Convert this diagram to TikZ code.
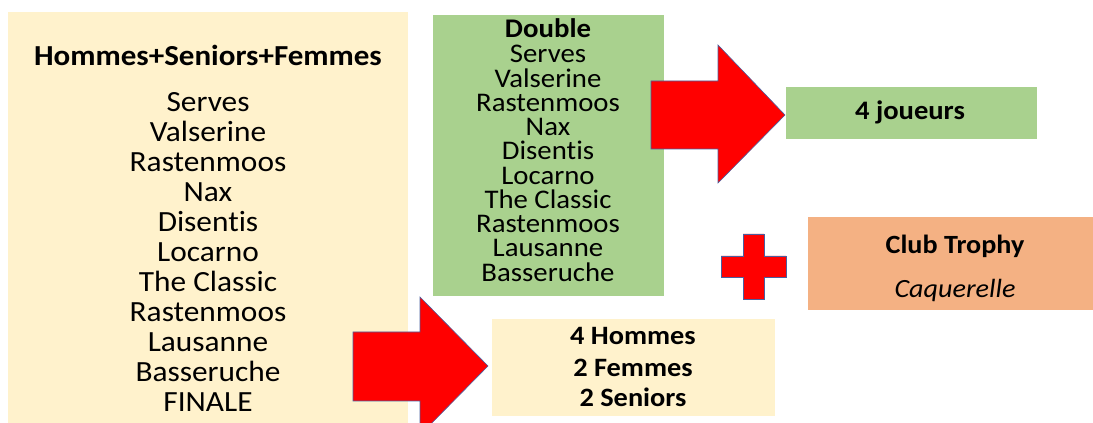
\documentclass[tikz,border=0pt]{standalone}
\usepackage{fontspec}
\setmainfont[FakeStretch=1.07,Ligatures={NoCommon}]{Carlito}
\definecolor{boxyellow}{HTML}{FFF2CC}
\definecolor{boxgreen}{HTML}{A9D18E}
\definecolor{boxorange}{HTML}{F4B183}
\definecolor{arrowred}{HTML}{FF0000}
\definecolor{arrowedge}{HTML}{4A5FA0}
\tikzset{
  panel/.style={fill=#1, draw=none, inner sep=0pt, anchor=south west},
  blockshape/.style={fill=arrowred, draw=arrowedge, line width=0.6pt, line join=miter},
  txt/.style={inner sep=0pt, anchor=base},
}
\begin{document}
\begin{tikzpicture}[x=1pt,y=1pt]
\useasboundingbox (0,0) rectangle (1093,423);
\clip (0,0) rectangle (1093,423);
% panels
\node[panel=boxyellow, minimum width=400pt, minimum height=411pt] (left) at (8,0) {};
\node[panel=boxgreen, minimum width=231pt, minimum height=281pt] (double) at (433,127) {};
\node[panel=boxgreen, minimum width=251pt, minimum height=52pt] (joueurs) at (786,284) {};
\node[panel=boxorange, minimum width=285pt, minimum height=93pt] (club) at (808,113) {};
\node[panel=boxyellow, minimum width=283pt, minimum height=97pt] (equipe) at (492,7) {};
% left list
\node[txt, font=\fontsize{29}{29}\selectfont\bfseries] (lt) at (208,357) {Hommes+Seniors+Femmes};
\foreach \t [count=\i from 0] in {Serves,Valserine,Rastenmoos,Nax,Disentis,Locarno,The Classic,Rastenmoos,Lausanne,Basseruche,FINALE}
  \node[txt, font=\fontsize{29.3}{29.3}\selectfont] (l\i) at (208,311-30*\i) {\t};
% green list
\node[txt, font=\fontsize{26.9}{26.9}\selectfont\bfseries] (dt) at (548,385) {Double};
\foreach \t [count=\i from 0] in {Serves,Valserine,Rastenmoos,Nax,Disentis,Locarno,The Classic,Rastenmoos,Lausanne,Basseruche}
  \node[txt, font=\fontsize{26.9}{26.9}\selectfont] (d\i) at (548,360-24.25*\i) {\t};
% right texts
\node[txt, font=\fontsize{26.7}{26.7}\selectfont\bfseries] (jt) at (910,303) {4 joueurs};
\node[txt, font=\fontsize{26.3}{26.3}\selectfont\bfseries] (ct) at (955,169) {Club Trophy};
\node[txt, font=\fontsize{26.3}{26.3}\selectfont\itshape] (cq) at (955,125) {Caquerelle};
\node[txt, font=\fontsize{26.5}{26.5}\selectfont\bfseries] (e1) at (633,78) {4 Hommes};
\node[txt, font=\fontsize{26.5}{26.5}\selectfont\bfseries] (e2) at (633,46.3) {2 Femmes};
\node[txt, font=\fontsize{26.5}{26.5}\selectfont\bfseries] (e3) at (633,16) {2 Seniors};
% block arrows and plus
\draw[blockshape] (651,342) -- (718,342) -- (718,378) -- (785,308) -- (718,240) -- (718,274) -- (651,274) -- cycle;
\draw[blockshape] (353,91) -- (420,91) -- (420,126) -- (488,57) -- (420,-12) -- (420,22) -- (353,22) -- cycle;
\draw[blockshape] (743,189) -- (764,189) -- (764,167) -- (786,167) -- (786,146) -- (764,146) -- (764,124) -- (743,124) -- (743,146) -- (721,146) -- (721,167) -- (743,167) -- cycle;
\end{tikzpicture}
\end{document}
